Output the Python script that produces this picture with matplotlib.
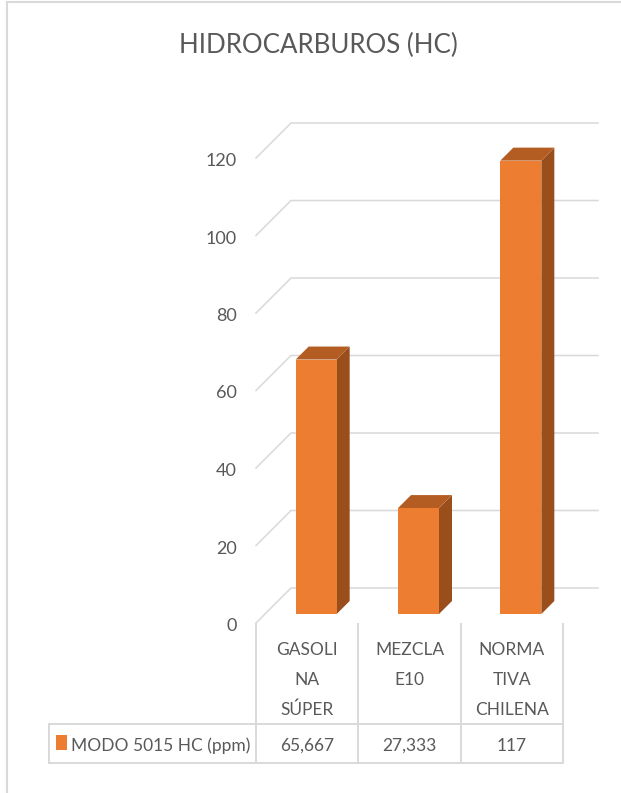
import matplotlib
matplotlib.use('Agg')
import matplotlib.pyplot as plt
from matplotlib.patches import Polygon, Rectangle
from matplotlib.lines import Line2D

# data
categories = ['GASOLI\nNA\nSÚPER', 'MEZCLA\nE10', 'NORMA\nTIVA\nCHILENA']
values = [65.667, 27.333, 117]
value_labels = ['65,667', '27,333', '117']
series_name = 'MODO 5015 HC (ppm)'
y_ticks = [0, 20, 40, 60, 80, 100, 120]
title = 'HIDROCARBUROS (HC)'

plt.rcParams['font.family'] = ['Lato', 'DejaVu Sans']
txt = '#595959'
grid = '#d9d9d9'
c_front, c_top, c_side = '#ED7D31', '#B45D22', '#994E1C'
fs = 12.5

W, H = 621, 793
fig = plt.figure(figsize=(W/100, H/100), dpi=100)

def fx(px): return px / W
def fy(py): return 1 - py / H

# chart frame (only left and top edges visible)
fig.add_artist(Line2D([fx(7), fx(7)], [fy(2), 0], color=grid, lw=1.5))
fig.add_artist(Line2D([fx(7), 1], [fy(2), fy(2)], color=grid, lw=1.5))

fig.text(fx(318), fy(53), title, ha='center', va='baseline', fontsize=18.6, color=txt)

# front plane of the 3d box
ax = fig.add_axes([fx(256), fy(623), fx(563)-fx(256), fy(158)-fy(623)])
ax.set_xlim(0, 3)
ax.set_ylim(0, 120)
ax.axis('off')

px_x = 3 / (563-256)
px_y = 120 / (623-158)
DX, DY = 35*px_x, 35*px_y  # depth of the box

for t in y_ticks:
    ax.plot([0, DX, 3+DX], [t, t+DY, t+DY], color=grid, lw=1.1, clip_on=False, zorder=1)
    ax.annotate(str(t), (0, t), xytext=(-19*0.72, -8*0.72), textcoords='offset points',
                ha='right', va='baseline', fontsize=13, color=txt)

# bars
f0, f1 = 9/35, 22/35
w = 41*px_x
ddx, ddy = (f1-f0)*DX, (f1-f0)*DY
for i, v in enumerate(values):
    xl = i + 0.5 - w/2 + f0*DX
    xr = xl + w
    y0 = f0*DY
    ax.add_patch(Polygon([(xr, y0), (xr, y0+v), (xr+ddx, y0+v+ddy), (xr+ddx, y0+ddy)],
                         closed=True, fc=c_side, ec='none', clip_on=False, zorder=3))
    ax.add_patch(Polygon([(xl, y0+v), (xl+ddx, y0+v+ddy), (xr+ddx, y0+v+ddy), (xr, y0+v)],
                         closed=True, fc=c_top, ec='none', clip_on=False, zorder=3))
    ax.add_patch(Rectangle((xl, y0), w, v, fc=c_front, ec='none', clip_on=False, zorder=4))

# data table below (x in category units, y in pixels from top)
tb = fig.add_axes([fx(256), 0, fx(563)-fx(256), fy(600)])
tb.set_xlim(0, 3)
tb.set_ylim(793, 600)
tb.axis('off')
xleft = (49-256)*px_x
for i in range(4):
    tb.plot([i, i], [624, 763], color=grid, lw=1.4, clip_on=False)
tb.plot([xleft, xleft], [724, 763], color=grid, lw=1.4, clip_on=False)
tb.plot([xleft, 3], [724, 724], color=grid, lw=1.4, clip_on=False)
tb.plot([xleft, 3], [763, 763], color=grid, lw=1.4, clip_on=False)

for i, lab in enumerate(categories):
    for k, line in enumerate(lab.split('\n')):
        tb.text(i+0.5, 655 + 30*k, line, ha='center', va='baseline', fontsize=fs, color=txt)
    tb.text(i+0.5, 751, value_labels[i], ha='center', va='baseline', fontsize=fs, color=txt)

tb.add_patch(Rectangle(((56-256)*px_x, 735), 11*px_x, 15, fc=c_front, ec='none', clip_on=False))
tb.text((71-256)*px_x, 751, series_name, ha='left', va='baseline', fontsize=fs, color=txt)

fig.savefig('out.png', dpi=100)
